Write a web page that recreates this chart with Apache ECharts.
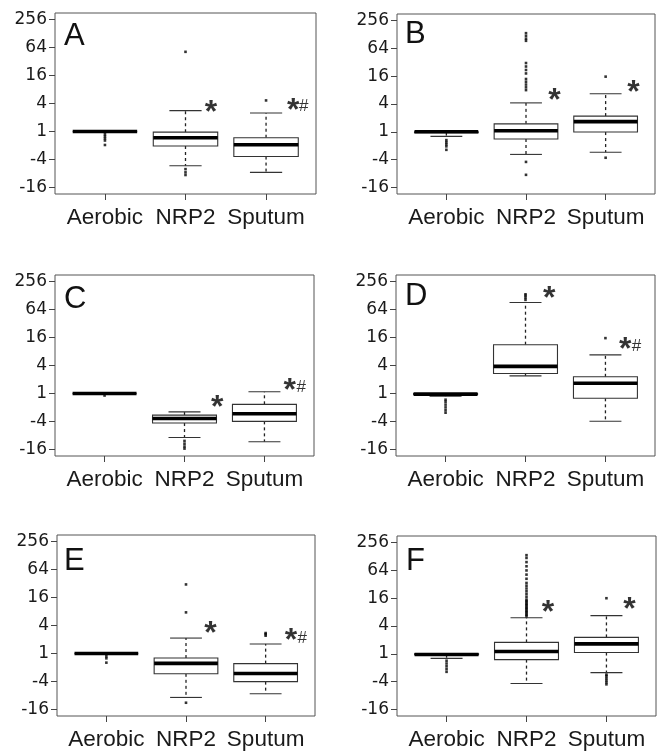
<!DOCTYPE html>
<html>
<head>
<meta charset="utf-8">
<script src="https://cdn.jsdelivr.net/npm/echarts@6/dist/echarts.min.js"></script>
<style>
html,body{margin:0;padding:0;background:#fff;}
#chart{width:663px;height:752px;}
</style>
</head>
<body>
<div id="chart"></div>
<script>
// ---- data (values on log2 fold-change axis; labels shown as 2^v / -2^|v|) ----
const categories = ['Aerobic', 'NRP2', 'Sputum'];
const panelLabels = ['A', 'B', 'C', 'D', 'E', 'F'];
const yTickValues = [-4, -2, 0, 2, 4, 6, 8];

// box stats per category: [lowerWhisker, Q1, median, Q3, upperWhisker]
const boxA = [[0, 0, 0, 0, 0], [-2.46, -1.04, -0.45, -0.05, 1.49], [-2.93, -1.8, -0.95, -0.45, 1.32]];
const boxB = [[-0.33, -0.06, 0, 0, 0], [-1.63, -0.52, 0.07, 0.57, 2.08], [-1.47, -0.02, 0.73, 1.13, 2.74]];
const boxC = [[0, 0, 0, 0, 0], [-3.15, -2.12, -1.79, -1.55, -1.32], [-3.46, -2.0, -1.46, -0.78, 0.12]];
const boxD = [[-0.2, -0.08, -0.05, 0, 0], [1.26, 1.43, 1.94, 3.49, 6.51], [-1.99, -0.35, 0.73, 1.19, 2.76]];
const boxE = [[0, 0, 0, 0, 0], [-3.15, -1.46, -0.71, -0.33, 1.1], [-2.89, -2.02, -1.44, -0.73, 0.68]];
const boxF = [[-0.33, -0.07, -0.05, 0, 0], [-2.14, -0.42, 0.16, 0.82, 2.59], [-1.36, 0.09, 0.71, 1.18, 2.75]];

// outliers per category
const outA = [[-0.2, -0.35, -0.5, -0.65, -0.97], [5.7, -2.7, -2.93, -3.12], [2.22]];
const outB = [[-0.6, -0.75, -0.9, -1.05, -1.3], [7.1, 6.9, 6.7, 6.55, 4.95, 4.7, 4.45, 4.2, 3.8, 3.6, 3.4, 3.2, 3.0, -2.17, -3.1], [3.97, -1.87]];
const outC = [[-0.15], [-3.4, -3.6, -3.8, -3.95], []];
const outD = [[-0.45, -0.6, -0.8, -1.0, -1.2, -1.38], [6.7, 6.85, 7.0, 7.1], [3.96]];
const outE = [[-0.2, -0.35, -0.66], [4.94, 2.94, -3.53], [1.27, 1.38, 1.46]];
const outF = [[-0.5, -0.7, -0.9, -1.1, -1.3],
  [2.7, 2.8, 2.9, 3.0, 3.1, 3.2, 3.3, 3.4, 3.5, 3.6, 3.7, 3.8, 3.9, 4.1, 4.3, 4.5, 4.7, 4.9, 5.1, 5.4, 5.7, 6.0, 6.3, 6.6, 6.9, 7.1],
  [4.0, -1.5, -1.6, -1.75, -1.9, -2.05, -2.2]];

// significance marks: [x (category units), y (log2)]
const starA = [[2.24, 1.77], [3.26, 1.91]];
const starB = [[2.28, 2.62], [3.27, 3.2]];
const starC = [[2.33, -0.59], [3.24, 0.61]];
const starD = [[2.22, 7.17], [3.17, 3.54]];
const starE = [[2.23, 1.8], [3.24, 1.32]];
const starF = [[2.19, 3.39], [3.21, 3.58]];
const hashA = [[3.41, 1.91]];
const hashB = [];
const hashC = [[3.40, 0.61]];
const hashD = [[3.33, 3.54]];
const hashE = [[3.40, 1.25]];
const hashF = [];

const boxes = [boxA, boxB, boxC, boxD, boxE, boxF];
const outs = [outA, outB, outC, outD, outE, outF];
const stars = [starA, starB, starC, starD, starE, starF];
const hashes = [hashA, hashB, hashC, hashD, hashE, hashF];

// ---- layout ----
const grids = [
  {left: 55, top: 13, width: 261, height: 181},
  {left: 397, top: 14, width: 258, height: 180},
  {left: 55, top: 275, width: 259, height: 181},
  {left: 396, top: 275, width: 259, height: 181},
  {left: 57, top: 535, width: 258, height: 181},
  {left: 397, top: 536, width: 259, height: 180}
];
const letterPos = [[64, 21], [405, 19], [64, 284], [405, 281], [64, 546], [406, 546]];

const FONT = 'Liberation Sans, Arial, sans-serif';
const TICKFONT = 'DejaVu Sans, sans-serif';
const TXT = '#1a1a1a';

function fmtY(v) {
  if (v >= 0) return String(Math.round(Math.pow(2, v)));
  return '-' + Math.round(Math.pow(2, -v));
}

function renderBox(params, api) {
  const x = api.value(0);
  const mn = api.value(1), q1 = api.value(2), md = api.value(3), q3 = api.value(4), mx = api.value(5);
  const xl = api.coord([x - 0.4, 0])[0], xr = api.coord([x + 0.4, 0])[0];
  const cl = api.coord([x - 0.2, 0])[0], cr = api.coord([x + 0.2, 0])[0];
  const cx = api.coord([x, 0])[0];
  const yMn = api.coord([x, mn])[1], yQ1 = api.coord([x, q1])[1], yMd = api.coord([x, md])[1];
  const yQ3 = api.coord([x, q3])[1], yMx = api.coord([x, mx])[1];
  const dash = {stroke: '#222', lineWidth: 1.3, lineDash: [3, 3]};
  const solid = {stroke: '#333', lineWidth: 1.1};
  const children = [];
  if (yMx < yQ3 - 0.5) {
    children.push({type: 'line', shape: {x1: cx, y1: yQ3, x2: cx, y2: yMx}, style: dash});
    children.push({type: 'line', shape: {x1: cl, y1: yMx, x2: cr, y2: yMx}, style: solid});
  }
  if (yMn > yQ1 + 0.5) {
    children.push({type: 'line', shape: {x1: cx, y1: yQ1, x2: cx, y2: yMn}, style: dash});
    children.push({type: 'line', shape: {x1: cl, y1: yMn, x2: cr, y2: yMn}, style: solid});
  }
  children.push({type: 'rect', shape: {x: xl, y: yQ3, width: xr - xl, height: yQ1 - yQ3},
    style: {fill: '#fff', stroke: '#333', lineWidth: 1.1}});
  children.push({type: 'line', shape: {x1: xl, y1: yMd, x2: xr, y2: yMd}, style: {stroke: '#000', lineWidth: 3.6}});
  return {type: 'group', children: children};
}

const option = {
  animation: false,
  backgroundColor: '#fff',
  title: panelLabels.map((t, i) => ({
    text: t, left: letterPos[i][0], top: letterPos[i][1], padding: 0,
    textStyle: {fontFamily: FONT, fontSize: 31, fontWeight: 'normal', color: '#111'}
  })),
  grid: grids.map(g => Object.assign({show: true, borderColor: '#555', borderWidth: 1, containLabel: false}, g)),
  xAxis: grids.map((g, i) => ({
    type: 'value', gridIndex: i, min: 0.38, max: 3.62, position: 'bottom',
    splitLine: {show: false},
    axisLine: {show: false, onZero: false},
    axisTick: {show: true, length: 6, lineStyle: {color: '#444'}, customValues: [1, 2, 3]},
    axisLabel: {
      show: true, customValues: [1, 2, 3], margin: 12,
      formatter: v => categories[Math.round(v) - 1],
      fontFamily: FONT, fontSize: 22.5, color: TXT
    }
  })),
  yAxis: grids.map((g, i) => ({
    type: 'value', gridIndex: i, min: -4.48, max: 8.48, position: 'left',
    splitLine: {show: false},
    axisLine: {show: false, onZero: false},
    axisTick: {show: true, length: 6, lineStyle: {color: '#444'}, customValues: yTickValues},
    axisLabel: {
      show: true, customValues: yTickValues, margin: 8,
      formatter: fmtY,
      fontFamily: TICKFONT, fontSize: 17, color: TXT
    }
  })),
  series: []
};

for (let i = 0; i < 6; i++) {
  option.series.push({
    type: 'custom', xAxisIndex: i, yAxisIndex: i,
    renderItem: renderBox,
    encode: {x: 0, y: [1, 2, 3, 4, 5]},
    data: boxes[i].map((b, k) => [k + 1].concat(b)),
    z: 2
  });
  const pts = [];
  outs[i].forEach((arr, k) => arr.forEach(v => pts.push([k + 1, v])));
  option.series.push({
    type: 'scatter', xAxisIndex: i, yAxisIndex: i,
    symbol: 'rect', symbolSize: [2.6, 2.6],
    itemStyle: {color: '#000'},
    data: pts, z: 3
  });
  const marks = [];
  stars[i].forEach(p => marks.push({value: p, label: {formatter: '*', fontSize: 32, fontWeight: 'bold', offset: [0, 6]}}));
  hashes[i].forEach(p => marks.push({value: p, label: {formatter: '#', fontSize: 17, fontWeight: 'normal', offset: [0, 2]}}));
  option.series.push({
    type: 'scatter', xAxisIndex: i, yAxisIndex: i,
    symbolSize: 0, itemStyle: {color: 'rgba(0,0,0,0)'},
    label: {show: true, position: 'right', distance: 0, color: '#000', fontFamily: FONT},
    data: marks, z: 4
  });
}

const chart = echarts.init(document.getElementById('chart'), null, {renderer: 'canvas'});
chart.setOption(option);
</script>
</body>
</html>
